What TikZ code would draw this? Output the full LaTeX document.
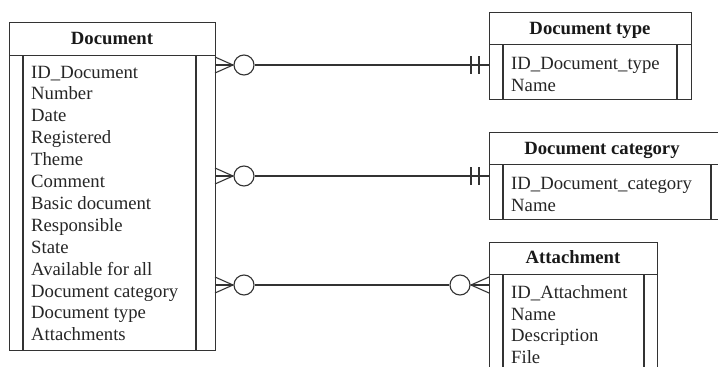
\documentclass[tikz,border=0pt]{standalone}
\usepackage{fontspec}
\setmainfont{Liberation Serif}
\begin{document}
\begin{tikzpicture}[x=1pt,y=-1pt,
  line/.style={draw=black!80, line width=1.1pt},
  ebox/.style={line, fill=white, inner sep=0pt, anchor=north west},
  hdr/.style={font=\fontsize{18.7}{22}\selectfont\bfseries, text=black!90, inner sep=0pt, anchor=base},
  attr/.style={font=\fontsize{18.7}{22}\selectfont, text=black!85, inner sep=0pt, anchor=base west},
  circ/.style={line, fill=white, circle, minimum size=20pt, inner sep=0pt}
]
\useasboundingbox (0,0) rectangle (718,367);
% ---------- Document ----------
\node[ebox, minimum width=206pt, minimum height=33pt] (dochead) at (9,22) {};
\node[ebox, minimum width=206pt, minimum height=295pt] (docbody) at (9,55) {};
\draw[line] (23,55) -- (23,350) (196,55) -- (196,350);
\node[hdr] (doctitle) at (112,44) {Document};
\foreach \t [count=\i from 0] in {ID\_Document,Number,Date,Registered,Theme,Comment,Basic document,Responsible,State,Available for all,Document category,Document type,Attachments}
  \node[attr] (d\i) at (31,78+21.9*\i) {\t};
% ---------- Document type ----------
\node[ebox, minimum width=202pt, minimum height=32pt] (typehead) at (489,12) {};
\node[ebox, minimum width=202pt, minimum height=55pt] (typebody) at (489,44) {};
\draw[line] (503,44) -- (503,99) (677,44) -- (677,99);
\node[hdr] (typetitle) at (590,34) {Document type};
\node[attr] (t1) at (511,69) {ID\_Document\_type};
\node[attr] (t2) at (511,91) {Name};
% ---------- Document category ----------
\node[ebox, minimum width=236pt, minimum height=32pt] (cathead) at (489,132) {};
\node[ebox, minimum width=236pt, minimum height=55pt] (catbody) at (489,164) {};
\draw[line] (503,164) -- (503,219) (711,164) -- (711,219);
\node[hdr] (cattitle) at (602,154) {Document category};
\node[attr] (c1) at (511,189) {ID\_Document\_category};
\node[attr] (c2) at (511,211) {Name};
% ---------- Attachment ----------
\node[ebox, minimum width=168pt, minimum height=32pt] (atthead) at (489,242) {};
\node[ebox, minimum width=168pt, minimum height=140pt] (attbody) at (489,274) {};
\draw[line] (503,274) -- (503,380) (644,274) -- (644,380);
\node[hdr] (atttitle) at (573,263) {Attachment};
\node[attr] (a1) at (511,298) {ID\_Attachment};
\node[attr] (a2) at (511,320) {Name};
\node[attr] (a3) at (511,341.5) {Description};
\node[attr] (a4) at (511,363) {File};
% ---------- Connectors ----------
% 1: Document -> Document type
\coordinate (p1) at (215,65);
\coordinate (q1) at (489,65);
\node[circ] (o1) at (244,65) {};
\draw[line] (p1) -- (o1.west);
\draw[line] (215,57) -- (233,65) -- (215,73);
\draw[line] (o1.east) -- (q1);
\draw[line] (471,56) -- (471,74) (479,56) -- (479,74);
% 2: Document -> Document category
\coordinate (p2) at (215,176);
\coordinate (q2) at (489,176);
\node[circ] (o2) at (244,176) {};
\draw[line] (p2) -- (o2.west);
\draw[line] (215,168) -- (233,176) -- (215,184);
\draw[line] (o2.east) -- (q2);
\draw[line] (471,167) -- (471,185) (479,167) -- (479,185);
% 3: Document -> Attachment
\coordinate (p3) at (215,285);
\coordinate (q3) at (489,285);
\node[circ] (o3) at (244,285) {};
\node[circ] (o4) at (460,285) {};
\draw[line] (p3) -- (o3.west);
\draw[line] (215,277) -- (233,285) -- (215,293);
\draw[line] (o3.east) -- (o4.west);
\draw[line] (o4.east) -- (q3);
\draw[line] (489,277) -- (471,285) -- (489,293);
\end{tikzpicture}
\end{document}
